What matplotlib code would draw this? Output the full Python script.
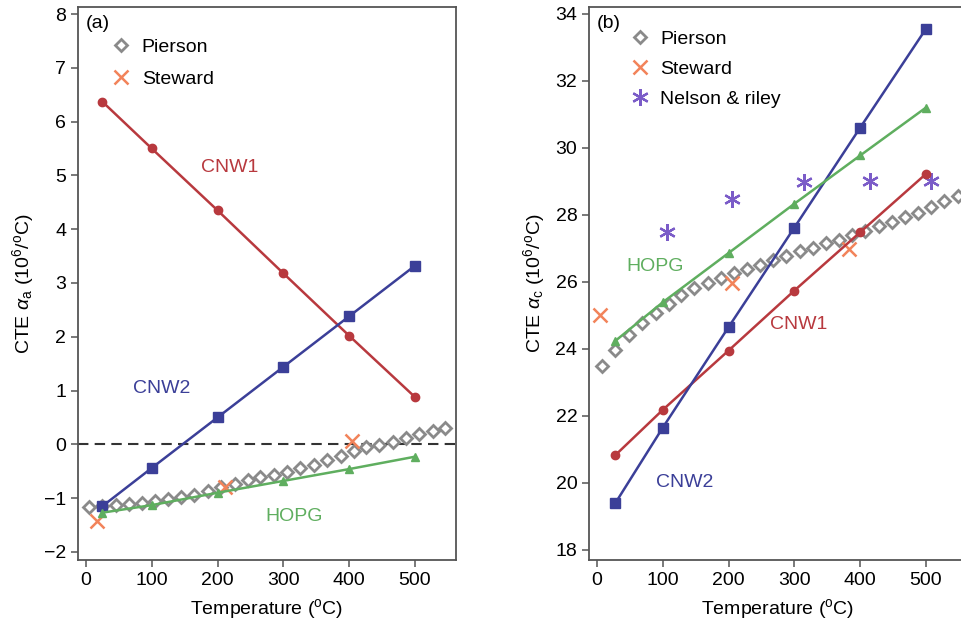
import matplotlib.pyplot as plt

plt.rcParams['font.family'] = ['Liberation Sans', 'DejaVu Sans']
plt.rcParams['mathtext.fontset'] = 'custom'
plt.rcParams['mathtext.rm'] = 'Liberation Sans'
plt.rcParams['mathtext.it'] = 'Liberation Sans:italic'
plt.rcParams['font.size'] = 13

# (a) in-plane CTE
T = [25, 100, 200, 300, 400, 500]
a_cnw1 = [6.37, 5.50, 4.35, 3.18, 2.02, 0.88]
a_cnw2 = [-1.15, -0.44, 0.50, 1.44, 2.38, 3.32]
a_hopg = [-1.27, -1.13, -0.90, -0.68, -0.46, -0.23]
a_pier_T = [5, 25, 45, 65, 85, 105, 125, 145, 165, 185, 205, 226, 246, 265,
            286, 306, 326, 347, 367, 387, 407, 426, 446, 466, 486, 506, 527, 546]
a_pier = [-1.17, -1.15, -1.13, -1.11, -1.09, -1.05, -1.02, -0.98, -0.94, -0.87,
          -0.80, -0.74, -0.67, -0.61, -0.57, -0.51, -0.44, -0.38, -0.30, -0.22,
          -0.12, -0.05, -0.01, 0.05, 0.11, 0.19, 0.25, 0.30]
a_stew_T = [17, 212, 404]
a_stew = [-1.42, -0.80, 0.07]

# (b) c-axis CTE
Tb = [28, 100, 200, 300, 400, 500]
c_cnw1 = [20.83, 22.18, 23.95, 25.74, 27.48, 29.22]
c_cnw2 = [19.40, 21.65, 24.65, 27.62, 30.60, 33.55]
c_hopg = [24.24, 25.39, 26.86, 28.33, 29.77, 31.20]
c_pier_T = [8, 28, 48, 69, 89, 110, 128, 148, 168, 188, 208, 228, 248, 268,
            288, 308, 328, 348, 368, 388, 408, 428, 448, 468, 488, 508, 528, 548]
c_pier = [23.49, 23.97, 24.42, 24.78, 25.08, 25.34, 25.61, 25.81, 25.96, 26.11,
          26.26, 26.38, 26.51, 26.66, 26.78, 26.91, 27.01, 27.16, 27.25, 27.40,
          27.53, 27.67, 27.80, 27.93, 28.05, 28.23, 28.40, 28.57]
c_stew_T = [5, 205, 383]
c_stew = [25.0, 25.96, 26.99]
c_nel_T = [107, 205, 314, 415, 508]
c_nel = [27.48, 28.48, 28.98, 29.0, 29.0]

red = '#b8393e'
blue = '#3b3f98'
green = '#5fae5f'
orange = '#f2835a'
purple = '#7b5cc8'
grey = '#8a8a8a'

fig = plt.figure(figsize=(9.61, 6.22), dpi=100)
ax1 = fig.add_axes([0.0812, 0.0997, 0.393, 0.889])
ax2 = fig.add_axes([0.613, 0.0997, 0.393, 0.889])

def style(ax):
    for s in ax.spines.values():
        s.set_color('#555555')
        s.set_linewidth(1.3)
    ax.tick_params(direction='out', length=5, width=1.1, color='#555555',
                   labelsize=14, top=False, right=False)
    ax.set_xlim(-12, 562)
    ax.set_xticks([0, 100, 200, 300, 400, 500])
    ax.set_xlabel(r'Temperature ($^{\rm o}$C)', fontsize=14, labelpad=6)

pkw = dict(ls='none', marker='D', ms=6.5, mfc='white', mec=grey, mew=2)

# panel a
ax1.axhline(0, color='#333333', ls=(0, (5, 3)), lw=1.5, zorder=1)
ax1.plot(a_pier_T, a_pier, label='Pierson', zorder=2, **pkw)
ax1.plot(a_stew_T, a_stew, ls='none', marker='x', ms=10, mew=1.8, color=orange,
         label='Steward', zorder=3)
ax1.plot(T, a_cnw1, color=red, lw=1.8, marker='o', ms=6, zorder=4)
ax1.plot(T, a_cnw2, color=blue, lw=1.8, marker='s', ms=6.5, zorder=4)
ax1.plot(T, a_hopg, color=green, lw=1.8, marker='^', ms=6, zorder=4)
ax1.text(218, 5.14, 'CNW1', color=red, ha='center', va='center', fontsize=14)
ax1.text(115, 1.03, 'CNW2', color=blue, ha='center', va='center', fontsize=14)
ax1.text(316, -1.35, 'HOPG', color=green, ha='center', va='center', fontsize=14)
ax1.text(0.02, 0.985, '(a)', transform=ax1.transAxes, ha='left', va='top', fontsize=14)
ax1.set_ylim(-2.15, 8.13)
ax1.set_yticks(range(-2, 9))
ax1.set_yticklabels(['\u22122', '\u22121', '0', '1', '2', '3', '4', '5', '6', '7', '8'])
ax1.set_ylabel(r'CTE $\it{\alpha}_{\rm a}$ (10$^6$/$^{\rm o}$C)', fontsize=14, labelpad=6)
ax1.legend(loc='upper left', bbox_to_anchor=(0.03, 0.975), frameon=False,
           handletextpad=0.3, labelspacing=0.75, fontsize=14, handlelength=1.5)
style(ax1)

# panel b
ax2.plot(c_pier_T, c_pier, label='Pierson', zorder=2, **pkw)
ax2.plot(c_stew_T, c_stew, ls='none', marker='x', ms=10, mew=1.8, color=orange,
         label='Steward', zorder=3)
ax2.plot(c_nel_T, c_nel, ls='none', marker=(6, 2, 0), ms=12, mew=1.6, color=purple,
         label='Nelson & riley', zorder=3)
ax2.plot(Tb, c_cnw1, color=red, lw=1.8, marker='o', ms=6, zorder=4)
ax2.plot(Tb, c_cnw2, color=blue, lw=1.8, marker='s', ms=6.5, zorder=4)
ax2.plot(Tb, c_hopg, color=green, lw=1.8, marker='^', ms=6, zorder=4)
ax2.text(88, 26.46, 'HOPG', color=green, ha='center', va='center', fontsize=14)
ax2.text(306, 24.72, 'CNW1', color=red, ha='center', va='center', fontsize=14)
ax2.text(133, 20.0, 'CNW2', color=blue, ha='center', va='center', fontsize=14)
ax2.text(0.02, 0.985, '(b)', transform=ax2.transAxes, ha='left', va='top', fontsize=14)
ax2.set_ylim(17.7, 34.2)
ax2.set_yticks(range(18, 35, 2))
ax2.set_ylabel(r'CTE $\it{\alpha}_{\rm c}$ (10$^6$/$^{\rm o}$C)', fontsize=14, labelpad=6)
ax2.legend(loc='upper left', bbox_to_anchor=(0.05, 0.99), frameon=False,
           handletextpad=0.3, labelspacing=0.65, fontsize=14, handlelength=1.5)
style(ax2)

fig.savefig('out.png', dpi=100)
